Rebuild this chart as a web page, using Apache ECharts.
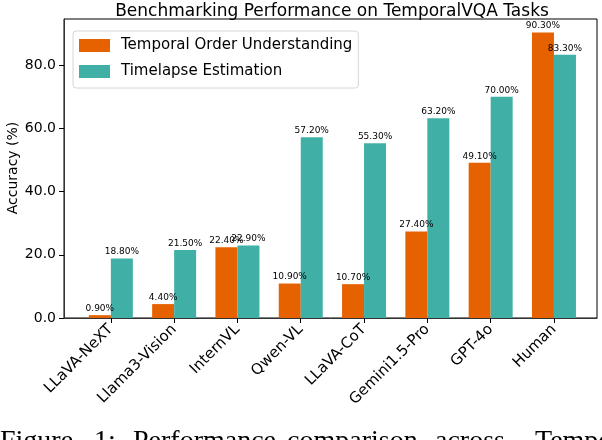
<!DOCTYPE html>
<html>
<head>
<meta charset="utf-8">
<script src="https://cdn.jsdelivr.net/npm/echarts@6/dist/echarts.min.js"></script>
<style>
  /* fixed size, matches the reference picture */
  html, body { margin: 0; padding: 0; background: #fff; }
  #myChart { width: 602px; height: 440px; }
</style>
</head>
<body>
<div id="myChart"></div>
<script>
// categories and values
var models = ['LLaVA-NeXT', 'Llama3-Vision', 'InternVL', 'Qwen-VL', 'LLaVA-CoT', 'Gemini1.5-Pro', 'GPT-4o', 'Human']
var temporalOrder = [0.9, 4.4, 22.4, 10.9, 10.7, 27.4, 49.1, 90.3]
var timelapse = [18.8, 21.5, 22.9, 57.2, 55.3, 63.2, 70.0, 83.3]
var modelIndex = models.map(function (m, i) { return i })

// caption words under the figure (it is justified, so each word is placed)
var captionWords = ['Figure', '1:', 'Performance', 'comparison', 'across', 'Tempo']
var captionLeft = [0, 94, 133, 287, 435, 535]

var font = 'DejaVu Sans'

function pairs (values) {
  return values.map(function (v, i) { return [i, v] })
}

var barLabel = {
  show: true,
  position: 'top',
  distance: 2,
  fontFamily: font,
  fontSize: 9,
  color: '#000',
  formatter: function (p) { return p.value[1].toFixed(2) + '%' }
}

var graphics = captionWords.map(function (w, i) {
  return {
    type: 'text',
    left: captionLeft[i],
    top: 428,
    style: { text: w, fontFamily: 'Liberation Serif', fontSize: 28, fill: '#000' }
  }
})
// y axis title, placed by hand (the axis name would not move)
graphics.push({
  type: 'text',
  x: 13,
  y: 168,
  rotation: Math.PI / 2,
  style: {
    text: 'Accuracy (%)',
    fontFamily: font,
    fontSize: 14,
    fill: '#000',
    textAlign: 'center',
    textVerticalAlign: 'middle'
  }
})

var myChart = echarts.init(document.getElementById('myChart'))
myChart.setOption({
  animation: false,
  textStyle: { fontFamily: font },
  title: {
    text: 'Benchmarking Performance on TemporalVQA Tasks',
    left: 327,
    textAlign: 'center',
    top: -2,
    textStyle: { fontFamily: font, fontSize: 17, fontWeight: 'normal', color: '#000' }
  },
  legend: {
    orient: 'vertical',
    left: 73,
    top: 31,
    padding: [7, 6, 9, 6],
    itemGap: 11,
    itemWidth: 31,
    itemHeight: 13,
    icon: 'rect',
    borderColor: '#d6d6d6',
    borderWidth: 1,
    borderRadius: 3,
    backgroundColor: 'rgba(255,255,255,0.8)',
    textStyle: { fontFamily: font, fontSize: 15, color: '#000', padding: [0, 0, 0, 6] },
    data: ['Temporal Order Understanding', 'Timelapse Estimation']
  },
  grid: {
    left: 64,
    right: 5,
    top: 19,
    bottom: 122,
    outerBoundsMode: 'none',
    containLabel: false,
    show: true,
    borderColor: '#000',
    borderWidth: 1
  },
  xAxis: {
    type: 'value',
    min: -0.74,
    max: 7.68,
    splitLine: { show: false },
    axisLine: { onZero: false, lineStyle: { color: '#333' } },
    axisTick: { length: 5, lineStyle: { color: '#000' }, customValues: modelIndex },
    axisLabel: {
      customValues: modelIndex,
      rotate: 45,
      margin: 9,
      fontFamily: font,
      fontSize: 15,
      color: '#000',
      formatter: function (v) { return models[Math.round(v)] }
    }
  },
  yAxis: {
    type: 'value',
    min: 0,
    max: 94.6,
    interval: 20,
    splitLine: { show: false },
    axisLine: { show: true, onZero: false, lineStyle: { color: '#333' } },
    axisTick: { show: true, length: 5, lineStyle: { color: '#000' } },
    axisLabel: {
      showMaxLabel: false,
      margin: 8,
      fontFamily: font,
      fontSize: 14,
      color: '#000',
      formatter: function (v) { return v.toFixed(1) }
    }
  },
  series: [
    {
      name: 'Temporal Order Understanding',
      type: 'bar',
      barWidth: 22,
      barGap: '0%',
      itemStyle: { color: '#E66100' },
      label: barLabel,
      data: pairs(temporalOrder)
    },
    {
      name: 'Timelapse Estimation',
      type: 'bar',
      barWidth: 22,
      barGap: '0%',
      itemStyle: { color: '#40B0A6' },
      label: barLabel,
      data: pairs(timelapse)
    }
  ],
  graphic: graphics
})
</script>
</body>
</html>
